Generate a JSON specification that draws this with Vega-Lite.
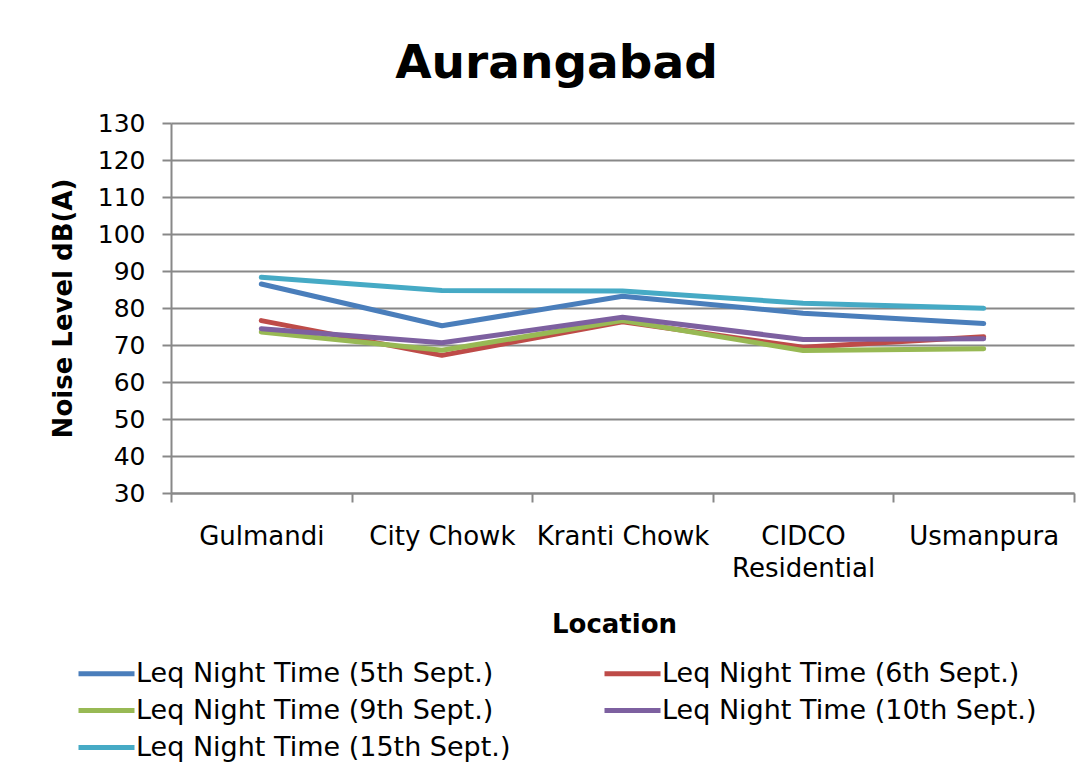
{
  "$schema": "https://vega.github.io/schema/vega-lite/v6.json",
  "width": 903,
  "height": 370,
  "autosize": {"type": "none"},
  "padding": {"left": 171, "top": 123, "right": 14, "bottom": 279},
  "background": "white",
  "config": {
    "font": "DejaVu Sans",
    "view": {"stroke": null},
    "axis": {
      "domainColor": "#888888",
      "domainWidth": 2,
      "tickColor": "#888888",
      "tickWidth": 2,
      "tickSize": 9,
      "gridColor": "#888888",
      "gridWidth": 2,
      "labelColor": "black",
      "labelFontSize": 25,
      "titleColor": "black",
      "titleFontSize": 26,
      "titleFontWeight": "bold"
    }
  },
  "title": {
    "text": "Aurangabad",
    "fontSize": 47,
    "fontWeight": "bold",
    "color": "black",
    "anchor": "middle",
    "dx": -66,
    "dy": 57,
    "baseline": "alphabetic",
    "offset": 43
  },
  "data": {
    "values": [
      {"i": 0, "location": "Gulmandi", "series": "Leq Night Time (5th Sept.)", "value": 86.5},
      {"i": 1, "location": "City Chowk", "series": "Leq Night Time (5th Sept.)", "value": 75.2},
      {"i": 2, "location": "Kranti Chowk", "series": "Leq Night Time (5th Sept.)", "value": 83.2},
      {"i": 3, "location": "CIDCO Residential", "series": "Leq Night Time (5th Sept.)", "value": 78.6},
      {"i": 4, "location": "Usmanpura", "series": "Leq Night Time (5th Sept.)", "value": 75.8},
      {"i": 0, "location": "Gulmandi", "series": "Leq Night Time (6th Sept.)", "value": 76.6},
      {"i": 1, "location": "City Chowk", "series": "Leq Night Time (6th Sept.)", "value": 67.2},
      {"i": 2, "location": "Kranti Chowk", "series": "Leq Night Time (6th Sept.)", "value": 76.3},
      {"i": 3, "location": "CIDCO Residential", "series": "Leq Night Time (6th Sept.)", "value": 69.4},
      {"i": 4, "location": "Usmanpura", "series": "Leq Night Time (6th Sept.)", "value": 72.2},
      {"i": 0, "location": "Gulmandi", "series": "Leq Night Time (9th Sept.)", "value": 73.5},
      {"i": 1, "location": "City Chowk", "series": "Leq Night Time (9th Sept.)", "value": 68.6},
      {"i": 2, "location": "Kranti Chowk", "series": "Leq Night Time (9th Sept.)", "value": 76.6},
      {"i": 3, "location": "CIDCO Residential", "series": "Leq Night Time (9th Sept.)", "value": 68.5},
      {"i": 4, "location": "Usmanpura", "series": "Leq Night Time (9th Sept.)", "value": 69.0},
      {"i": 0, "location": "Gulmandi", "series": "Leq Night Time (10th Sept.)", "value": 74.4},
      {"i": 1, "location": "City Chowk", "series": "Leq Night Time (10th Sept.)", "value": 70.6},
      {"i": 2, "location": "Kranti Chowk", "series": "Leq Night Time (10th Sept.)", "value": 77.5},
      {"i": 3, "location": "CIDCO Residential", "series": "Leq Night Time (10th Sept.)", "value": 71.5},
      {"i": 4, "location": "Usmanpura", "series": "Leq Night Time (10th Sept.)", "value": 71.7},
      {"i": 0, "location": "Gulmandi", "series": "Leq Night Time (15th Sept.)", "value": 88.3},
      {"i": 1, "location": "City Chowk", "series": "Leq Night Time (15th Sept.)", "value": 84.7},
      {"i": 2, "location": "Kranti Chowk", "series": "Leq Night Time (15th Sept.)", "value": 84.6},
      {"i": 3, "location": "CIDCO Residential", "series": "Leq Night Time (15th Sept.)", "value": 81.3},
      {"i": 4, "location": "Usmanpura", "series": "Leq Night Time (15th Sept.)", "value": 79.9}
    ]
  },
  "mark": {"type": "line", "strokeWidth": 5, "strokeCap": "round", "strokeJoin": "round"},
  "encoding": {
    "x": {
      "field": "location",
      "type": "nominal",
      "sort": ["Gulmandi", "City Chowk", "Kranti Chowk", "CIDCO Residential", "Usmanpura"],
      "scale": {"type": "band", "paddingInner": 0, "paddingOuter": 0},
      "axis": {
        "title": "Location",
        "labelAngle": 0,
        "labelFontSize": 26,
        "tickBand": "extent",
        "labelPadding": 21,
        "labelBaseline": "top",
        "labelLineHeight": 32,
        "labelExpr": "datum.label == 'CIDCO Residential' ? ['CIDCO', 'Residential'] : datum.label",
        "titleX": 443,
        "titleY": 139,
        "titleBaseline": "alphabetic",
        "titleAnchor": null
      }
    },
    "y": {
      "field": "value",
      "type": "quantitative",
      "scale": {"domain": [30, 130], "nice": false, "zero": false},
      "axis": {
        "title": "Noise Level dB(A)",
        "values": [30, 40, 50, 60, 70, 80, 90, 100, 110, 120, 130],
        "grid": true,
        "labelPadding": 17,
        "titleX": -100,
        "titleY": 185,
        "titleAngle": -90,
        "titleAlign": "center",
        "titleBaseline": "alphabetic"
      }
    },
    "color": {
      "field": "series",
      "type": "nominal",
      "scale": {
        "domain": ["Leq Night Time (5th Sept.)", "Leq Night Time (9th Sept.)", "Leq Night Time (15th Sept.)", "Leq Night Time (6th Sept.)", "Leq Night Time (10th Sept.)"],
        "range": ["#4A7EBB", "#98B954", "#46AAC5", "#BE4B48", "#7D60A0"]
      },
      "legend": {
        "title": null,
        "orient": "none",
        "legendX": -78,
        "legendY": 537,
        "columns": 2,
        "columnPadding": 83,
        "rowPadding": 9,
        "padding": 0,
        "symbolType": "M-4,0L4,0",
        "symbolSize": 196,
        "symbolStrokeWidth": 5,
        "labelFontSize": 27,
        "labelColor": "black",
        "labelOffset": 16,
        "labelLimit": 600
      }
    },
    "order": {"field": "i", "type": "quantitative"}
  }
}
